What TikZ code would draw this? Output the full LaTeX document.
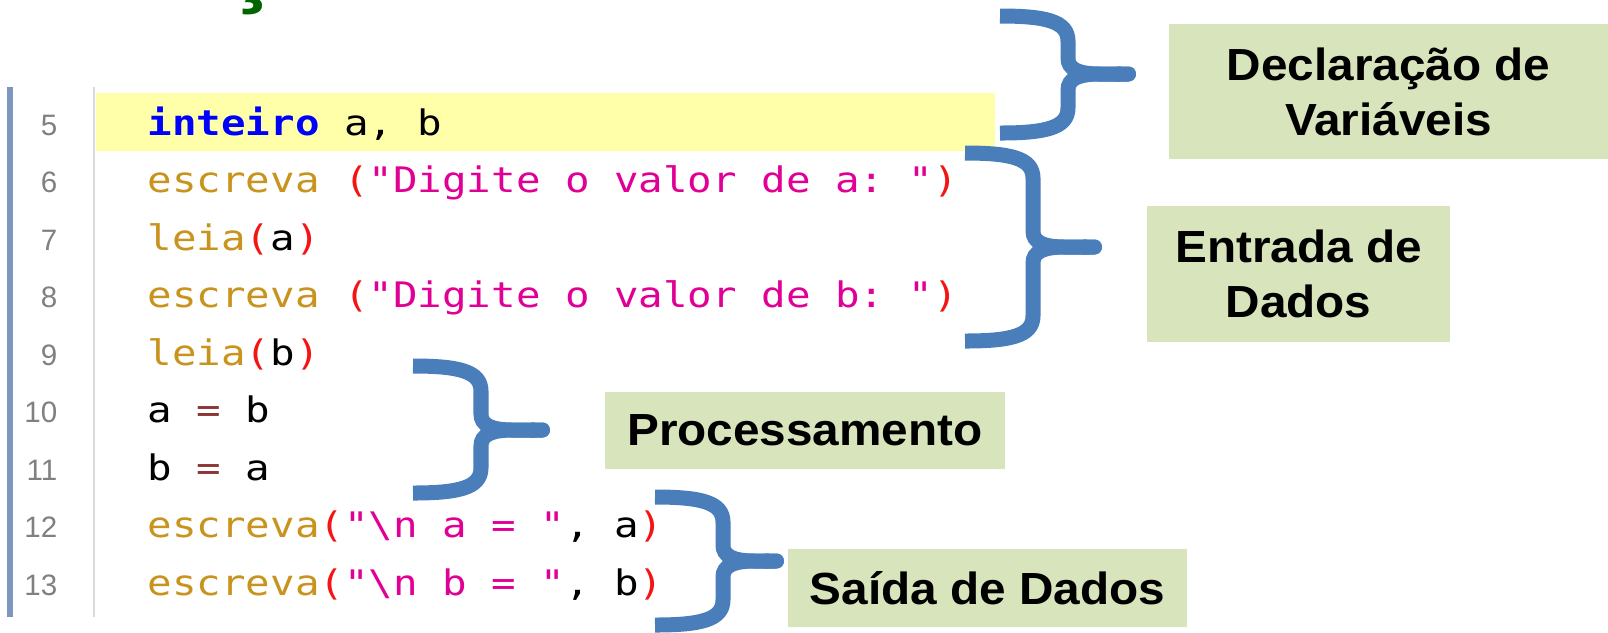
\documentclass[tikz,border=0pt]{standalone}
\usepackage{fontspec}
\setmainfont{Liberation Sans}
\newfontfamily\codefont[FakeStretch=1.16]{DejaVu Sans Mono}
\newfontfamily\labelfont[FakeStretch=1.06]{Liberation Sans}
\usepackage{tikz}
\usetikzlibrary{arrows.meta,positioning}
\definecolor{kwblue}{RGB}{0,0,255}
\definecolor{fngold}{RGB}{200,148,30}
\definecolor{parred}{RGB}{245,20,20}
\definecolor{strpink}{RGB}{225,0,150}
\definecolor{opmaroon}{RGB}{140,55,55}
\definecolor{numgray}{RGB}{128,128,128}
\definecolor{gutterblue}{RGB}{125,150,190}
\definecolor{sepgray}{RGB}{218,218,218}
\definecolor{hlyellow}{RGB}{255,255,170}
\definecolor{boxgreen}{RGB}{216,228,188}
\definecolor{braceblue}{RGB}{74,126,187}
\definecolor{titlegreen}{RGB}{0,100,0}

\begin{document}
\begin{tikzpicture}[x=0.01cm, y=-0.01cm,
	codeline/.style={anchor=base west, inner sep=0pt, font=\codefont\fontsize{10}{12}\selectfont\frenchspacing},
	lineno/.style={inner sep=0pt, text=numgray, font=\fontsize{8.4}{10}\selectfont},
	labelbox/.style={fill=boxgreen, inner sep=0pt, align=center, font=\labelfont\bfseries\fontsize{12.8}{15.65}\selectfont},
	bluebrace/.style={draw=braceblue, line width=0.15cm, -{Round Cap[]}}]
	\path[use as bounding box, fill=white] (0,0) rectangle (1608,632);

	\fill[hlyellow] (96,93) rectangle (995,151);
	\draw[gutterblue, line width=0.05cm] (10,87) -- (10,617);
	\draw[sepgray, line width=0.02cm] (94,87) -- (94,617);
	\node[anchor=base, inner sep=0pt, text=titlegreen, font=\bfseries\fontsize{28}{30}\selectfont] (title) at (252,-6) {ç};

	\node[codeline] (l5) at (147,135) {{\bfseries\color{kwblue}inteiro} a, b};
	\node[codeline] (l6) at (147,192.5) {\textcolor{fngold}{escreva} \textcolor{parred}{(}\textcolor{strpink}{"Digite o valor de a: "}\textcolor{parred}{)}};
	\node[codeline] (l7) at (147,250) {\textcolor{fngold}{leia}\textcolor{parred}{(}a\textcolor{parred}{)}};
	\node[codeline] (l8) at (147,307.5) {\textcolor{fngold}{escreva} \textcolor{parred}{(}\textcolor{strpink}{"Digite o valor de b: "}\textcolor{parred}{)}};
	\node[codeline] (l9) at (147,365) {\textcolor{fngold}{leia}\textcolor{parred}{(}b\textcolor{parred}{)}};
	\node[codeline] (l10) at (147,422.5) {a \textcolor{opmaroon}{=} b};
	\node[codeline] (l11) at (147,480) {b \textcolor{opmaroon}{=} a};
	\node[codeline] (l12) at (147,537.5) {\textcolor{fngold}{escreva}\textcolor{parred}{(}\textcolor{strpink}{"\textbackslash n a = "}, a\textcolor{parred}{)}};
	\node[codeline] (l13) at (147,595) {\textcolor{fngold}{escreva}\textcolor{parred}{(}\textcolor{strpink}{"\textbackslash n b = "}, b\textcolor{parred}{)}};

	\node[lineno] (n5) [base left=0.89cm of l5] {5};
	\node[lineno] (n6) [base left=0.89cm of l6] {6};
	\node[lineno] (n7) [base left=0.89cm of l7] {7};
	\node[lineno] (n8) [base left=0.89cm of l8] {8};
	\node[lineno] (n9) [base left=0.89cm of l9] {9};
	\node[lineno] (n10) [base left=0.89cm of l10] {10};
	\node[lineno] (n11) [base left=0.89cm of l11] {11};
	\node[lineno] (n12) [base left=0.89cm of l12] {12};
	\node[lineno] (n13) [base left=0.89cm of l13] {13};

	\coordinate (declTip) at (1136,74);
	\coordinate (entTip) at (1102,247);
	\coordinate (procTip) at (550,430);
	\coordinate (saiTip) at (784,561);

	\draw[bluebrace] (1000,16) .. controls +(45,0) and +(0,-20) .. (1068,41) -- (1068,58) .. controls +(0,11) and +(-22,0) .. (1100,74) -- (declTip);
	\draw[bluebrace] (1000,133) .. controls +(45,0) and +(0,20) .. (1068,108) -- (1068,90) .. controls +(0,-11) and +(-22,0) .. (1100,74) -- (declTip);
	\draw[bluebrace] (965,153) .. controls +(45,0) and +(0,-20) .. (1033,178) -- (1033,231) .. controls +(0,11) and +(-22,0) .. (1065,247) -- (entTip);
	\draw[bluebrace] (965,341) .. controls +(45,0) and +(0,20) .. (1033,316) -- (1033,263) .. controls +(0,-11) and +(-22,0) .. (1065,247) -- (entTip);
	\draw[bluebrace] (413,366) .. controls +(45,0) and +(0,-20) .. (481,391) -- (481,414) .. controls +(0,11) and +(-22,0) .. (513,430) -- (procTip);
	\draw[bluebrace] (413,493) .. controls +(45,0) and +(0,20) .. (481,468) -- (481,446) .. controls +(0,-11) and +(-22,0) .. (513,430) -- (procTip);
	\draw[bluebrace] (655,497) .. controls +(45,0) and +(0,-20) .. (723,522) -- (723,545) .. controls +(0,11) and +(-22,0) .. (755,561) -- (saiTip);
	\draw[bluebrace] (655,625) .. controls +(45,0) and +(0,20) .. (723,600) -- (723,577) .. controls +(0,-11) and +(-22,0) .. (755,561) -- (saiTip);

	\node[labelbox, minimum width=4.39cm, minimum height=1.35cm] (decl) at (1388.5,91.5) {Declaração de\\Variáveis};
	\node[labelbox, minimum width=3.03cm, minimum height=1.36cm] (entrada) at (1298.5,274) {Entrada de\\Dados};
	\node[labelbox, minimum width=4.00cm, minimum height=0.77cm] (proc) at (805,430.5) {Processamento};
	\node[labelbox, minimum width=3.99cm, minimum height=0.78cm] (saida) at (987.5,588) {Saída de Dados};
\end{tikzpicture}
\end{document}
